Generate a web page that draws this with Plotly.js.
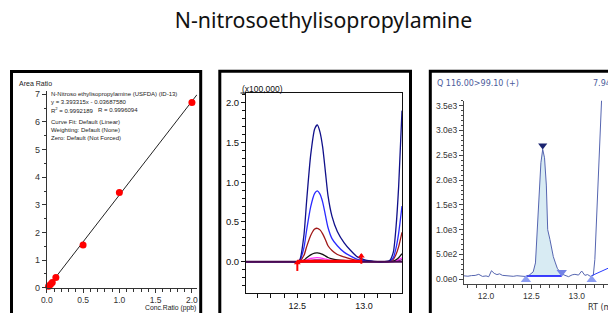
<!DOCTYPE html>
<html><head><meta charset="utf-8">
<script src="https://cdn.plot.ly/plotly-3.0.1.min.js"></script>
<style>html,body{margin:0;padding:0;background:#fff}#chart{width:608px;height:313px}</style>
</head><body><div id="chart"></div>
<script>
// ---- Panel 1: calibration curve ----
const calConc = [0.025, 0.05, 0.075, 0.125, 0.5, 1.0, 2.0];
const calArea = [0.05, 0.12, 0.19, 0.37, 1.55, 3.45, 6.70];
const fitConc = [0, 2.07];
const fitArea = [-0.037, 6.987];
const calInfo = [
  "N-Nitroso ethylisopropylamine (USFDA) (ID-13)",
  "y = 3.393315x - 0.03687580",
  "R<sup>2</sup> = 0.9992189",
  "Curve Fit: Default (Linear)",
  "Weighting: Default (None)",
  "Zero: Default (Not Forced)"
];
const calR = "R = 0.9996094";

// ---- Panel 2: overlaid chromatograms (x100,000) ----
const rt2 = [12.115, 12.45, 12.50, 12.52, 12.55, 12.57, 12.60, 12.63, 12.65, 12.67, 12.69, 12.71, 12.73, 12.76, 12.80, 12.85, 12.90, 12.95, 13.00, 13.05, 13.10, 13.15, 13.19, 13.22, 13.24, 13.26, 13.285];
const sNavy    = [0,0,0,0.03,0.34,0.77,1.34,1.67,1.72,1.63,1.44,1.14,0.83,0.57,0.38,0.24,0.14,0.06,0.026,0.009,0,0,0.01,0.12,0.43,0.95,1.90];
const sBlue    = [0,0,0,0.02,0.18,0.40,0.69,0.86,0.89,0.85,0.75,0.59,0.43,0.29,0.20,0.12,0.07,0.03,0.013,0.004,0,0,0.005,0.05,0.17,0.36,0.70];
const sDarkRed = [0,0,0,0.01,0.08,0.19,0.33,0.41,0.42,0.40,0.35,0.28,0.20,0.14,0.09,0.06,0.034,0.015,0.006,0.002,0,0,0.003,0.03,0.09,0.19,0.37];
const sBlack   = [0,0,0,0.002,0.02,0.05,0.086,0.107,0.11,0.105,0.092,0.073,0.053,0.036,0.024,0.015,0.009,0.004,0.002,0,0,0,0.001,0.008,0.025,0.05,0.10];
const sMagenta = [0,0,0,0.001,0.01,0.023,0.04,0.049,0.05,0.048,0.042,0.033,0.024,0.017,0.011,0.007,0.004,0.002,0.001,0,0,0,0,0.004,0.012,0.025,0.05];
const sPurple  = [0,0,0,0,0.004,0.01,0.017,0.021,0.022,0.021,0.018,0.014,0.01,0.007,0.005,0.003,0.002,0.001,0,0,0,0,0,0.002,0.006,0.012,0.025];
const baseRT2 = [12.115, 13.285];
const baseVal2 = [0, 0];
const intRT2 = [12.50, 12.98];
const intVal2 = [0.004, 0.004];
const markRT2 = [12.50, 12.98];
const markTipVal2 = [-0.015, 0.07];
const markStemVal2 = [-0.055, 0.035];
const yTicks2 = [0, 0.5, 1.0, 1.5, 2.0];
const xTicks2 = [12.5, 13.0];

// ---- Panel 3: single MRM chromatogram ----
const rt3 = [11.757,11.80,11.84,11.88,11.92,11.96,12.00,12.03,12.06,12.09,12.12,12.15,12.18,12.22,12.26,12.30,12.34,12.38,12.42,12.445,12.48,12.52,12.545,12.566,12.585,12.605,12.625,12.645,12.665,12.68,12.705,12.725,12.742,12.765,12.786,12.81,12.835,12.87,12.91,12.95,12.98,13.02,13.055,13.09,13.12,13.15,13.165,13.183,13.20,13.23,13.255,13.275];
const int3 = [70,62,75,78,100,58,68,52,173,120,95,110,80,70,75,60,72,65,70,55,90,150,330,1000,1750,2350,2620,2450,1900,1000,800,600,456,330,222,160,110,80,53,90,100,85,167,80,95,60,73,80,400,1730,2900,3650];
const fillRT3 = [12.445,12.48,12.52,12.545,12.566,12.585,12.605,12.625,12.645,12.665,12.68,12.705,12.725,12.742,12.765,12.786,12.81,12.835];
const fillInt3 = [66,90,150,330,1000,1750,2350,2620,2450,1900,1000,800,600,456,330,222,160,110];
const blRT3 = [12.445, 12.835];
const blInt3 = [66, 66];
const bl2RT3 = [13.165, 13.345];
const bl2Int3 = [73, 222];
const startRT3 = [12.44, 13.165];
const startInt3 = [-10, -10];
const endRT3 = [12.835];
const endInt3 = [140];
const apexRT3 = [12.625];
const apexInt3 = [2700];
const yTicks3 = [0, 500, 1000, 1500, 2000, 2500, 3000, 3500];
const yText3 = ["0.0e0","5.0e2","1.0e3","1.5e3","2.0e3","2.5e3","3.0e3","3.5e3"];
const xTicks3 = [12.0, 12.5, 13.0];

const W = 608, H = 313;
const px = x => x / W;
const py = y => (H - y) / H;
const F = "Liberation Sans, Arial, sans-serif";

const traces = [];
// panel 1
traces.push({x: fitConc, y: fitArea, xaxis:'x', yaxis:'y', mode:'lines', line:{color:'#222', width:1}, hoverinfo:'skip'});
traces.push({x: calConc, y: calArea, xaxis:'x', yaxis:'y', mode:'markers', marker:{color:'#ff0000', size:7}, cliponaxis:false});
// panel 2
const chrom = [[sPurple,'#7a1f8a'],[sMagenta,'#ff33ff'],[sBlack,'#111111'],[sDarkRed,'#a01818'],[sBlue,'#2a2aff'],[sNavy,'#10108a']];
chrom.forEach(([s,c]) => traces.push({x: rt2, y: s, xaxis:'x2', yaxis:'y2', mode:'lines', line:{color:c, width:1.3, shape:'spline', smoothing:0.6}}));
traces.push({x: baseRT2, y: baseVal2, xaxis:'x2', yaxis:'y2', mode:'lines', line:{color:'#4a0a50', width:2}});
traces.push({x: intRT2, y: intVal2, xaxis:'x2', yaxis:'y2', mode:'lines', line:{color:'#ff0000', width:3}});
traces.push({x: markRT2, y: markStemVal2, xaxis:'x2', yaxis:'y2', mode:'markers', marker:{color:'#ff0000', size:7, symbol:'line-ns-open', line:{color:'#ff0000', width:2}}, cliponaxis:false});
traces.push({x: markRT2, y: markTipVal2, xaxis:'x2', yaxis:'y2', mode:'markers', marker:{color:'#ff0000', size:6, symbol:'triangle-up'}, cliponaxis:false});
// panel 3
traces.push({x: blRT3, y: blInt3, xaxis:'x3', yaxis:'y3', mode:'lines', line:{color:'#0000ff', width:1.5}});
traces.push({x: fillRT3, y: fillInt3, xaxis:'x3', yaxis:'y3', mode:'lines', line:{width:0}, fill:'tonexty', fillcolor:'#d8ebf3'});
traces.push({x: rt3, y: int3, xaxis:'x3', yaxis:'y3', mode:'lines', line:{color:'#5565b0', width:1}});
traces.push({x: bl2RT3, y: bl2Int3, xaxis:'x3', yaxis:'y3', mode:'lines', line:{color:'#2a3cff', width:1}});
traces.push({x: startRT3, y: startInt3, xaxis:'x3', yaxis:'y3', mode:'markers', marker:{color:'#8c9df2', size:9, symbol:'triangle-up'}, cliponaxis:false});
traces.push({x: endRT3, y: endInt3, xaxis:'x3', yaxis:'y3', mode:'markers', marker:{color:'#7383e6', size:9, symbol:'triangle-down'}, cliponaxis:false});
traces.push({x: apexRT3, y: apexInt3, xaxis:'x3', yaxis:'y3', mode:'markers', marker:{color:'#1a2470', size:8, symbol:'triangle-down'}, cliponaxis:false});

const axBase = {showgrid:false, zeroline:false, showline:true, ticks:'outside', fixedrange:true};

const layout = {
  width: W, height: H, margin:{l:0,r:0,t:0,b:0}, showlegend:false,
  paper_bgcolor:'#fff', plot_bgcolor:'rgba(0,0,0,0)',
  title:{text:'N-nitrosoethylisopropylamine', x: 323.5/W, y: py(21), xanchor:'center', yanchor:'middle', font:{family:'Noto Sans, Open Sans, sans-serif', size:21.3, color:'#111'}},
  xaxis: Object.assign({}, axBase, {domain:[px(46.8), px(197)], range:[0, 2.07], dtick:0.5, tick0:0, tickformat:'.1f', ticklen:4, linecolor:'#333', tickcolor:'#333', tickfont:{family:F, size:8.5, color:'#333'}, minor:{dtick:0.1, tick0:0, ticklen:3, ticks:'outside', tickcolor:'#333'}, anchor:'y'}),
  yaxis: Object.assign({}, axBase, {domain:[py(287.7), py(91)], range:[0, 7.12], dtick:1, tick0:0, ticklen:4, linecolor:'#333', tickcolor:'#333', tickfont:{family:F, size:9, color:'#333'}, minor:{dtick:0.5, tick0:0, ticklen:2, ticks:'outside', tickcolor:'#333'}, anchor:'x'}),
  xaxis2: Object.assign({}, axBase, {domain:[px(246), px(402)], range:[12.115, 13.285], tickvals:xTicks2, tickformat:'.1f', ticklen:4, mirror:true, linecolor:'#111', tickcolor:'#111', tickfont:{family:F, size:9, color:'#111'}, minor:{dtick:0.1, tick0:0, ticklen:4, ticks:'outside', tickcolor:'#111'}, anchor:'y2'}),
  yaxis2: Object.assign({}, axBase, {domain:[py(293), py(93)], range:[-0.394, 2.122], tickvals:yTicks2, tickformat:'.1f', ticklen:4, mirror:true, linecolor:'#111', tickcolor:'#111', tickfont:{family:F, size:9.5, color:'#111'}, minor:{dtick:0.1, tick0:0, ticklen:3, ticks:'outside', tickcolor:'#111'}, anchor:'x2'}),
  xaxis3: Object.assign({}, axBase, {domain:[px(464), 1], range:[11.757, 13.345], tickvals:xTicks3, tickformat:'.1f', ticklen:4, linecolor:'#444', tickcolor:'#444', tickfont:{family:F, size:8.5, color:'#333'}, minor:{dtick:0.1, tick0:0, ticklen:3, ticks:'outside', tickcolor:'#444'}, anchor:'y3'}),
  yaxis3: Object.assign({}, axBase, {domain:[py(284), py(100.7)], range:[-94.8, 3601], tickvals:yTicks3, ticktext:yText3, ticklen:4, linecolor:'#444', tickcolor:'#444', tickfont:{family:F, size:8.5, color:'#333'}, minor:{dtick:100, tick0:0, ticklen:2, ticks:'outside', tickcolor:'#444'}, anchor:'x3'}),
  shapes: [
    {type:'rect', xref:'paper', yref:'paper', x0:px(11.5), x1:px(200.7), y0:-0.1, y1:py(71.5), line:{color:'#000', width:3}},
    {type:'rect', xref:'paper', yref:'paper', x0:px(219.8), x1:px(410.5), y0:-0.1, y1:py(71.3), line:{color:'#000', width:3}},
    {type:'rect', xref:'paper', yref:'paper', x0:px(430.3), x1:1.1, y0:-0.1, y1:py(71.3), line:{color:'#000', width:3}},
    {type:'line', xref:'paper', yref:'paper', x0:px(240.5), x1:px(246), y0:py(93), y1:py(93), line:{color:'#111', width:1}}
  ],
  annotations: []
};
const ann = (text, x, y, size, color, xanchor, family) => layout.annotations.push({text, x:px(x), y:py(y), xref:'paper', yref:'paper', xanchor:xanchor||'left', yanchor:'middle', showarrow:false, font:{family:family||F, size, color}});
const infoY = [94.3, 102.2, 110, 122, 129.8, 137.6];
calInfo.forEach((t,i) => ann(t, 49, infoY[i], 6, '#222'));
ann(calR, 96, 110, 6, '#222');
ann('Area Ratio', 17, 83, 7, '#222');
ann('Conc.Ratio (ppb)', 198, 308, 6.8, '#222', 'right');
ann('(x100,000)', 240, 89, 8.5, '#111');
ann('Q 116.00>99.10 (+)', 435, 83, 8, '#4a5a9a', 'left', 'DejaVu Sans, sans-serif');
ann('7.94', 591, 83, 8, '#4a5a9a', 'left', 'DejaVu Sans, sans-serif');
ann('RT (min)', 586, 307, 8, '#333', 'left', 'DejaVu Sans, sans-serif');

Plotly.newPlot('chart', traces, layout, {staticPlot:true, displayModeBar:false});
</script></body></html>
